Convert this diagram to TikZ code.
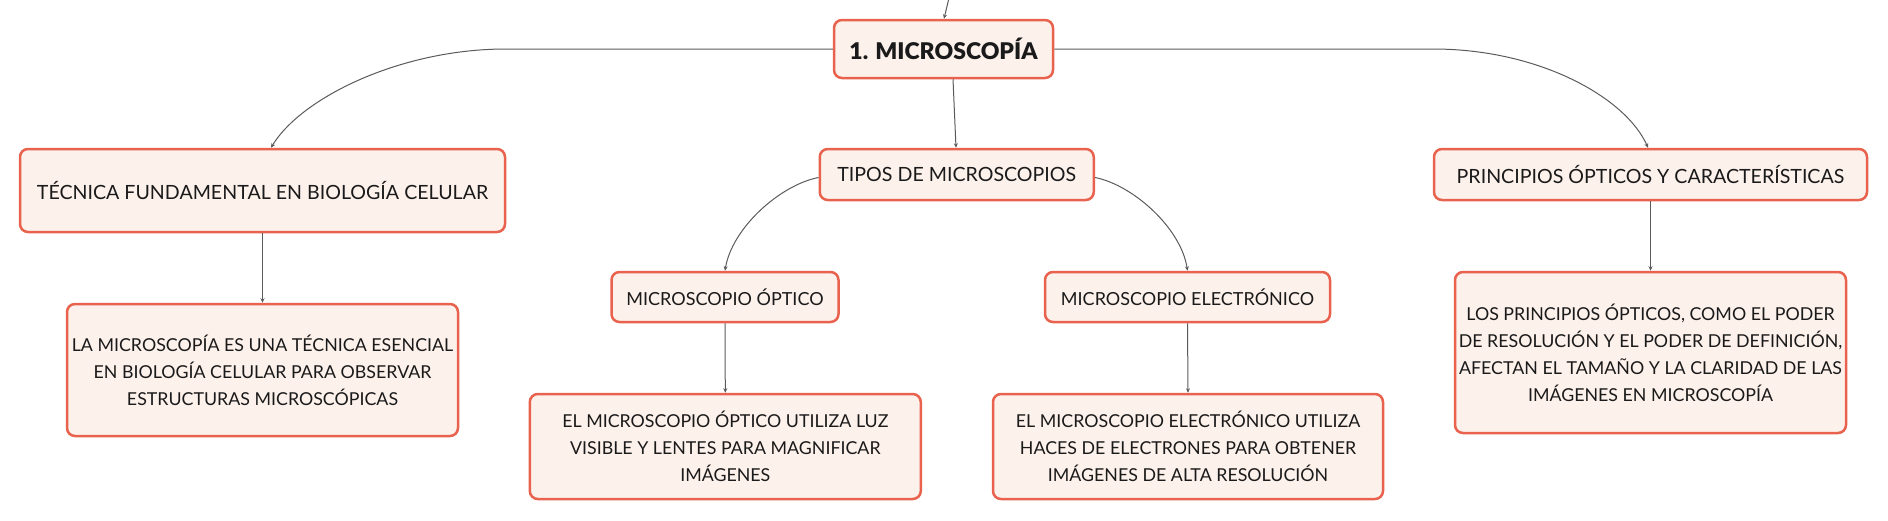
\documentclass[tikz,border=0pt]{standalone}
\usepackage{fontspec}
\setmainfont{Lato}
\newfontfamily\heavyfont{Lato Black}
\usetikzlibrary{arrows.meta}
\definecolor{boxborder}{HTML}{E9624E}
\definecolor{boxfill}{HTML}{FDF1EC}
\definecolor{edgecol}{HTML}{5A5A5A}
\definecolor{txt}{HTML}{1A1A1A}
\begin{document}
\begin{tikzpicture}[x=1pt,y=-1pt,
  box/.style={draw=boxborder, fill=boxfill, line width=2.5pt, rounded corners=8pt,
    align=center, text=txt, inner sep=0pt},
  bigtxt/.style={font=\fontsize{19.6}{27}\selectfont},
  midtxt/.style={font=\fontsize{18}{27}\selectfont},
  smltxt/.style={font=\fontsize{17.8}{27}\selectfont},
  edge/.style={draw=edgecol, line width=1pt, -{Stealth[length=4.5pt,width=4pt]}}]
\useasboundingbox (0,0) rectangle (1888,520);
% nodes
\node[box, minimum width=219pt, minimum height=58pt,
  font=\fontsize{23}{28}\heavyfont] (title) at (943.5,49) {1. MICROSCOPÍA};
\node[box, bigtxt, minimum width=485pt, minimum height=83pt] (tec) at (262.5,190.5)
  {TÉCNICA FUNDAMENTAL EN BIOLOGÍA CELULAR};
\node[box, bigtxt, minimum width=274pt, minimum height=51pt] (tipos) at (956.75,174.5)
  {TIPOS DE MICROSCOPIOS};
\node[box, bigtxt, minimum width=433pt, minimum height=51pt] (princ) at (1650.5,174.5)
  {PRINCIPIOS ÓPTICOS Y CARACTERÍSTICAS};
\node[box, smltxt, minimum width=391pt, minimum height=132pt] (la) at (262.5,370)
  {LA MICROSCOPÍA ES UNA TÉCNICA ESENCIAL\\EN BIOLOGÍA CELULAR PARA OBSERVAR\\ESTRUCTURAS MICROSCÓPICAS};
\node[box, midtxt, minimum width=227pt, minimum height=50pt] (opt) at (725,297)
  {MICROSCOPIO ÓPTICO};
\node[box, midtxt, minimum width=285pt, minimum height=50pt] (ele) at (1187.5,297)
  {MICROSCOPIO ELECTRÓNICO};
\node[box, smltxt, minimum width=391pt, minimum height=105pt] (optd) at (725.3,446.5)
  {EL MICROSCOPIO ÓPTICO UTILIZA LUZ\\VISIBLE Y LENTES PARA MAGNIFICAR\\IMÁGENES};
\node[box, smltxt, minimum width=390pt, minimum height=105pt] (eled) at (1188,446.5)
  {EL MICROSCOPIO ELECTRÓNICO UTILIZA\\HACES DE ELECTRONES PARA OBTENER\\IMÁGENES DE ALTA RESOLUCIÓN};
\node[box, smltxt, minimum width=391pt, minimum height=161pt] (princd) at (1650.5,352.5)
  {LOS PRINCIPIOS ÓPTICOS, COMO EL PODER\\DE RESOLUCIÓN Y EL PODER DE DEFINICIÓN,\\AFECTAN EL TAMAÑO Y LA CLARIDAD DE LAS\\IMÁGENES EN MICROSCOPÍA};
% coordinates
\coordinate (topin) at (949,-2);
\coordinate (lbend) at (506,49);
\coordinate (rbend) at (1433,49);
% edges
\draw[edge] (topin) -- ([xshift=0.5pt]title.north);
\draw[edge] ([xshift=9.5pt]title.south) -- ([xshift=-0.75pt]tipos.north);
\draw[edge] (title.west) -- (lbend) .. controls (400,49) and (301,98) .. ([xshift=8.5pt]tec.north);
\draw[edge] (title.east) -- (rbend) .. controls (1540,49) and (1626,98) .. ([xshift=-2.5pt]princ.north);
\draw[edge] ([yshift=-3pt]tipos.west) .. controls (780,185) and (732,228) .. (opt.north);
\draw[edge] ([yshift=-3pt]tipos.east) .. controls (1133,185) and (1181,228) .. (ele.north);
\draw[edge] (tec.south) -- (la.north);
\draw[edge] (opt.south) -- (optd.north);
\draw[edge] (ele.south) -- (eled.north);
\draw[edge] (princ.south) -- (princd.north);
\end{tikzpicture}
\end{document}
